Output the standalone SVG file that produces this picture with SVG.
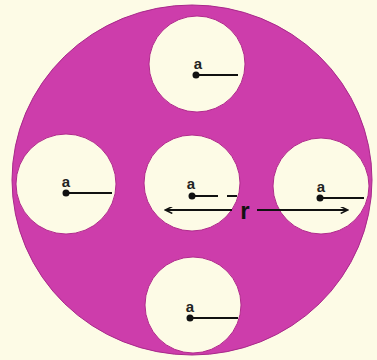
<svg xmlns="http://www.w3.org/2000/svg" width="377" height="360" viewBox="0 0 377 360">
<defs>
<style>
.hole{fill:#fdfbe6;stroke:#b02a8c;stroke-width:1}
.rad{stroke:#111;stroke-width:2;fill:none}
.dot{fill:#111}
.lbl{font-family:"Liberation Sans",Arial,sans-serif;font-weight:bold;font-size:15px;fill:#222;text-anchor:middle}
.r{font-family:"Liberation Sans",Arial,sans-serif;font-weight:bold;font-size:24px;fill:#111;text-anchor:middle}
.arr{stroke:#111;stroke-width:2;fill:none}
</style>
<marker id="ah" viewBox="0 0 10 10" refX="9" refY="5" markerWidth="9" markerHeight="7" orient="auto-start-reverse" markerUnits="userSpaceOnUse">
<path d="M0,0 L10,5 L0,10" fill="none" stroke="#111" stroke-width="2"/>
</marker>
</defs>
<rect width="377" height="360" fill="#fdfbe6"/>
<ellipse id="body" cx="192" cy="180" rx="180" ry="175" fill="#cd3dab" stroke="#a8288a" stroke-width="1"/>
<g id="hole-top">
<circle class="hole" cx="197" cy="64" r="48"/>
<line class="rad" x1="196" y1="75" x2="238" y2="75"/>
<circle class="dot" cx="196" cy="75" r="3.5"/>
<text class="lbl" x="198" y="69">a</text>
</g>
<g id="hole-left">
<circle class="hole" cx="66" cy="184" r="50"/>
<line class="rad" x1="66" y1="193" x2="112" y2="193"/>
<circle class="dot" cx="66" cy="193" r="3.5"/>
<text class="lbl" x="66" y="187">a</text>
</g>
<g id="hole-center">
<circle class="hole" cx="192" cy="183" r="48"/>
<line class="rad" x1="192" y1="196" x2="218" y2="196"/>
<line class="rad" x1="227" y1="196" x2="237" y2="196"/>
<circle class="dot" cx="192" cy="196" r="3.5"/>
<text class="lbl" x="191" y="189">a</text>
</g>
<g id="hole-right">
<circle class="hole" cx="321" cy="186" r="48"/>
<line class="rad" x1="320" y1="198" x2="364" y2="198"/>
<circle class="dot" cx="320" cy="198" r="3.5"/>
<text class="lbl" x="321" y="192">a</text>
</g>
<g id="hole-bottom">
<circle class="hole" cx="193" cy="305" r="48"/>
<line class="rad" x1="190" y1="318" x2="238" y2="318"/>
<circle class="dot" cx="190" cy="318" r="3.5"/>
<text class="lbl" x="190" y="312">a</text>
</g>
<g id="connectors">
<line class="arr" x1="232" y1="210" x2="166" y2="210" marker-end="url(#ah)"/>
<line class="arr" x1="257" y1="210" x2="347" y2="210" marker-end="url(#ah)"/>
</g>
<text class="r" x="245" y="219">r</text>
</svg>
